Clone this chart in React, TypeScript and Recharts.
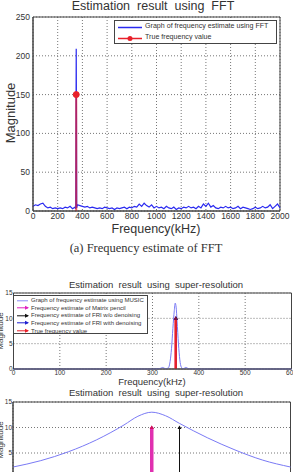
import React from 'react';
import {
  LineChart,
  Line,
  XAxis,
  YAxis,
  CartesianGrid,
  ReferenceArea,
} from 'recharts';

// FFT spectrum (kHz, magnitude)
const FFT_FREQ = [
  0, 20, 40, 60, 80, 100, 120, 140, 160, 180, 200, 220, 240, 260, 280, 300, 320, 340,
  346, 348, 350, 352, 354, 360, 380, 400, 420, 440, 460, 480, 500, 520, 540, 560, 580,
  600, 620, 640, 660, 680, 700, 720, 740, 760, 780, 800, 820, 840, 860, 880, 900, 920,
  940, 960, 980, 1000, 1020, 1040, 1060, 1080, 1100, 1120, 1140, 1160, 1180, 1200, 1220,
  1240, 1260, 1280, 1300, 1320, 1340, 1360, 1380, 1400, 1420, 1440, 1460, 1480, 1500,
  1520, 1540, 1560, 1580, 1600, 1620, 1640, 1660, 1680, 1700, 1720, 1740, 1760, 1780,
  1800, 1820, 1840, 1860, 1880, 1900, 1920, 1940, 1960, 1980, 2000,
];
const FFT_MAG = [
  6, 8, 7, 9, 10, 6, 4, 5, 3, 4, 3, 4, 3, 5, 4, 6, 3, 5,
  3, 110, 209, 120, 4, 8, 7, 6, 5, 6, 4, 5, 4, 3, 4, 3, 5,
  4, 3, 4, 2, 4, 3, 4, 5, 3, 5, 4, 6, 5, 9, 6, 10, 7,
  5, 8, 4, 6, 4, 5, 3, 6, 4, 3, 5, 2, 4, 3, 5,
  4, 6, 4, 5, 3, 6, 4, 9, 6, 10, 5, 7, 4, 3,
  5, 4, 6, 4, 5, 3, 4, 6, 3, 5, 4, 3, 2, 3,
  5, 3, 4, 6, 4, 5, 8, 3, 6, 9, 4,
];
const FFT_X_TICKS = [0, 200, 400, 600, 800, 1000, 1200, 1400, 1600, 1800, 2000];
const FFT_Y_TICKS = [0, 50, 100, 150, 200, 250];
const TRUE_FREQ = 350;
const TRUE_MAG_FFT = 150;

// MUSIC pseudo-spectrum, full band
const MUSIC_FREQ = [0, 100, 200, 300, 315, 322, 328, 334, 338, 341, 344, 347, 349, 351, 353, 356, 359, 362, 366, 372, 378, 390, 500, 600];
const MUSIC_MAG = [0, 0, 0, 0, 0.05, 0.3, 0.05, 0.2, 1.5, 4, 8, 11.5, 13, 12.2, 9.5, 5, 1.8, 0.4, 0.05, 0.3, 0.05, 0, 0, 0];
const SR_X_TICKS = [0, 100, 200, 300, 400, 500, 600];
const SR_Y_TICKS = [0, 5, 10, 15];

// MUSIC pseudo-spectrum, zoomed around the peak
const ZOOM_FREQ = [345, 346, 347, 348, 349, 349.5, 350, 350.5, 351, 352, 353, 354, 355];
const ZOOM_MAG = [2.25, 3.5, 5.25, 7.55, 10.5, 12.2, 13, 12.3, 10.8, 8, 5.6, 3.6, 2.25];
const ZOOM_X_TICKS = [345, 346, 347, 348, 349, 350, 351, 352, 353, 354, 355];

// stem estimates (kHz, magnitude)
const EST_MP = 350;
const EST_FRI_WO = 351;
const EST_FRI_WITH = 350;
const EST_MAG = 10;

const fftData = FFT_FREQ.map((f, i) => ({ f, m: FFT_MAG[i] }));
const musicData = MUSIC_FREQ.map((f, i) => ({ f, m: MUSIC_MAG[i] }));
const zoomData = ZOOM_FREQ.map((f, i) => ({ f, m: ZOOM_MAG[i] }));
const stem = (f: number, m: number) => [{ f, m: 0 }, { f, m }];

const FONT = '"Liberation Sans", Arial, sans-serif';
const TXT = '#333';

const circleTop = (color: string, r: number) => (p: any) =>
  p.index === 1 ? (
    <circle key={p.key} cx={p.cx} cy={p.cy} r={r} fill={color} stroke={color} />
  ) : (
    <g key={p.key} />
  );

const triTop = (color: string) => (p: any) =>
  p.index === 1 ? (
    <path key={p.key} d={`M${p.cx},${p.cy - 2} L${p.cx + 2},${p.cy + 1.5} L${p.cx - 2},${p.cy + 1.5} Z`} fill={color} />
  ) : (
    <g key={p.key} />
  );

const Text = ({ x, y, size, children, rotate, serif }: any) => (
  <div
    style={{
      position: 'absolute',
      left: x,
      top: y,
      transform: `translate(-50%, -50%)${rotate ? ' rotate(-90deg)' : ''}`,
      fontSize: size,
      fontFamily: serif ? '"Liberation Serif", "Times New Roman", serif' : FONT,
      color: TXT,
      whiteSpace: 'nowrap',
      lineHeight: 1,
    }}
  >
    {children}
  </div>
);

type LegendItem = { label: string; color: string; marker: 'none' | 'dot' | 'tri'; width: number };

const LegendBox = ({ x, y, w, h, items, size, lineLen, rowH, pad }: any) => (
  <div
    style={{
      position: 'absolute',
      left: x,
      top: y,
      width: w,
      height: h,
      border: '1px solid #444',
      background: '#fff',
      boxSizing: 'border-box',
      paddingTop: pad,
      overflow: 'hidden',
    }}
  >
    {items.map((it: LegendItem) => (
      <div key={it.label} style={{ display: 'flex', alignItems: 'center', height: rowH }}>
        <svg width={lineLen + 4} height={rowH} style={{ marginLeft: 2, flex: 'none' }}>
          <line x1={1} x2={lineLen + 1} y1={rowH / 2} y2={rowH / 2} stroke={it.color} strokeWidth={it.width} />
          {it.marker === 'dot' && <circle cx={lineLen / 2 + 1} cy={rowH / 2} r={2.5} fill={it.color} />}
          {it.marker === 'tri' && (
            <path d={`M${lineLen + 2},${rowH / 2} L${lineLen - 2},${rowH / 2 - 2} L${lineLen - 2},${rowH / 2 + 2} Z`} fill={it.color} />
          )}
        </svg>
        <span style={{ fontSize: size, fontFamily: FONT, color: TXT, whiteSpace: 'nowrap', lineHeight: 1 }}>
          {it.label}
        </span>
      </div>
    ))}
  </div>
);

const FFT_LEGEND: LegendItem[] = [
  { label: 'Graph of frequency estimate using FFT', color: '#2a2af0', marker: 'none', width: 1.5 },
  { label: 'True frequency value', color: '#e8202a', marker: 'dot', width: 1.5 },
];

const SR_LEGEND: LegendItem[] = [
  { label: 'Graph of frequency estimate using MUSIC', color: '#8a8af5', marker: 'none', width: 1 },
  { label: 'Frequency estimate of Matrix pencil', color: '#e020c0', marker: 'tri', width: 1 },
  { label: 'Frequency estimate of FRI w/o denoising', color: '#111', marker: 'tri', width: 1 },
  { label: 'Frequency estimate of FRI with denoising', color: '#2020d0', marker: 'tri', width: 1 },
  { label: 'True frequency value', color: '#e8202a', marker: 'tri', width: 1 },
];

const gridProps = { stroke: '#777', strokeDasharray: '1 2' };
const tickStyle = (size: number) => ({ fontSize: size, fontFamily: FONT, fill: TXT });

export default function App() {
  return (
    <div
      style={{
        position: 'absolute',
        left: 0,
        top: 0,
        width: 293,
        height: 472,
        overflow: 'hidden',
        background: '#fff',
      }}
    >
      {/* panel (a): FFT */}
      <div style={{ position: 'absolute', left: 0, top: 0 }}>
        <LineChart width={293} height={240} margin={{ top: 17, right: 13, bottom: 0, left: 0 }}>
          <CartesianGrid {...gridProps} />
          <XAxis
            type="number"
            dataKey="f"
            domain={[0, 2000]}
            ticks={FFT_X_TICKS}
            height={29}
            tickLine={false}
            tickSize={2}
            tickMargin={0}
            axisLine={{ stroke: '#444' }}
            tick={tickStyle(8.5)}
            interval={0}
          />
          <YAxis
            type="number"
            domain={[0, 250]}
            ticks={FFT_Y_TICKS}
            width={33}
            tickLine={false}
            tickSize={2}
            tickMargin={1}
            axisLine={{ stroke: '#444' }}
            tick={tickStyle(8.5)}
            interval={0}
          />
          <ReferenceArea x1={0} x2={2000} y1={0} y2={250} fill="none" stroke="#444" strokeOpacity={1} />
          <Line
            data={fftData}
            dataKey="m"
            stroke="#2a2af0"
            strokeWidth={1.2}
            dot={false}
            isAnimationActive={false}
          />
          <Line
            data={stem(TRUE_FREQ, TRUE_MAG_FFT)}
            dataKey="m"
            stroke="#e8202a"
            strokeOpacity={0.7}
            strokeWidth={2}
            dot={circleTop('#e8202a', 3)}
            isAnimationActive={false}
          />
        </LineChart>
      </div>
      <Text x={153} y={6} size={12.5}>Estimation&nbsp; result&nbsp; using&nbsp; FFT</Text>
      <Text x={10} y={113} size={13} rotate>Magnitude</Text>
      <Text x={156} y={229} size={12.5}>Frequency(kHz)</Text>
      <Text x={146} y={248} size={12.5} serif>(a) Frequency estimate of FFT</Text>
      <LegendBox x={114} y={20} w={163} h={24} items={FFT_LEGEND} size={7.1} lineLen={24} rowH={11} pad={0.5} />

      {/* super-resolution, full band */}
      <div style={{ position: 'absolute', left: 0, top: 280 }}>
        <LineChart width={293} height={101} margin={{ top: 13, right: 1.5, bottom: 0, left: 0 }}>
          <CartesianGrid {...gridProps} />
          <XAxis
            type="number"
            dataKey="f"
            domain={[0, 600]}
            ticks={SR_X_TICKS}
            height={12}
            tickLine={false}
            tickSize={1}
            tickMargin={0}
            axisLine={{ stroke: '#444' }}
            tick={tickStyle(6.5)}
            interval={0}
          />
          <YAxis
            type="number"
            domain={[0, 15]}
            ticks={SR_Y_TICKS}
            width={13.5}
            tickLine={false}
            tickSize={0}
            tickMargin={1}
            axisLine={{ stroke: '#444' }}
            tick={tickStyle(6.5)}
            interval={0}
          />
          <ReferenceArea x1={0} x2={600} y1={0} y2={15} fill="none" stroke="#444" strokeOpacity={1} />
          <Line data={musicData} dataKey="m" type="monotone" stroke="#7a7af5" strokeWidth={1} dot={false} isAnimationActive={false} />
          <Line data={stem(EST_MP, EST_MAG)} dataKey="m" stroke="#e020c0" strokeWidth={1.5} dot={triTop('#e020c0')} isAnimationActive={false} />
          <Line data={stem(EST_FRI_WO, EST_MAG)} dataKey="m" stroke="#111" strokeWidth={1} dot={triTop('#111')} isAnimationActive={false} />
          <Line data={stem(EST_FRI_WITH, EST_MAG)} dataKey="m" stroke="#2020d0" strokeWidth={1} dot={triTop('#2020d0')} isAnimationActive={false} />
          <Line data={stem(TRUE_FREQ, EST_MAG)} dataKey="m" stroke="#e8202a" strokeWidth={2.5} dot={triTop('#8a1030')} isAnimationActive={false} />
        </LineChart>
      </div>
      <Text x={156} y={285} size={9.5}>Estimation&nbsp; result&nbsp; using&nbsp; super-resolution</Text>
      <Text x={1} y={331} size={8} rotate>Magnitude</Text>
      <Text x={152} y={382} size={9.5}>Frequency(kHz)</Text>
      <LegendBox x={13} y={295} w={135} h={39} items={SR_LEGEND} size={6} lineLen={11} rowH={7.6} pad={0.5} />

      {/* super-resolution, zoomed (tick labels fall below the visible area) */}
      <div style={{ position: 'absolute', left: 0, top: 390 }}>
        <LineChart width={293} height={101} margin={{ top: 12, right: 2.5, bottom: 0, left: 0 }}>
          <CartesianGrid {...gridProps} />
          <XAxis
            type="number"
            dataKey="f"
            domain={[345, 355]}
            ticks={ZOOM_X_TICKS}
            height={12.5}
            tickLine={false}
            tick={false}
            axisLine={{ stroke: '#444' }}
            interval={0}
          />
          <YAxis
            type="number"
            domain={[0, 15]}
            ticks={SR_Y_TICKS}
            width={13}
            tickLine={false}
            tickSize={0}
            tickMargin={1}
            axisLine={{ stroke: '#444' }}
            tick={tickStyle(6.5)}
            interval={0}
          />
          <ReferenceArea x1={345} x2={355} y1={0} y2={15} fill="none" stroke="#444" strokeOpacity={1} />
          <Line data={zoomData} dataKey="m" type="monotone" stroke="#7a7af5" strokeWidth={1} dot={false} isAnimationActive={false} />
          <Line data={stem(TRUE_FREQ, EST_MAG)} dataKey="m" stroke="#e8202a" strokeWidth={2} dot={triTop('#c01040')} isAnimationActive={false} />
          <Line data={stem(EST_FRI_WITH, EST_MAG)} dataKey="m" stroke="#2020d0" strokeWidth={1} dot={false} isAnimationActive={false} />
          <Line data={stem(EST_MP, EST_MAG)} dataKey="m" stroke="#e030b0" strokeWidth={3.5} dot={triTop('#d01060')} isAnimationActive={false} />
          <Line data={stem(EST_FRI_WO, EST_MAG)} dataKey="m" stroke="#111" strokeWidth={1} dot={triTop('#111')} isAnimationActive={false} />
        </LineChart>
      </div>
      <Text x={156} y={393} size={9.5}>Estimation&nbsp; result&nbsp; using&nbsp; super-resolution</Text>
      <Text x={1} y={440} size={8} rotate>Magnitude</Text>
    </div>
  );
}
